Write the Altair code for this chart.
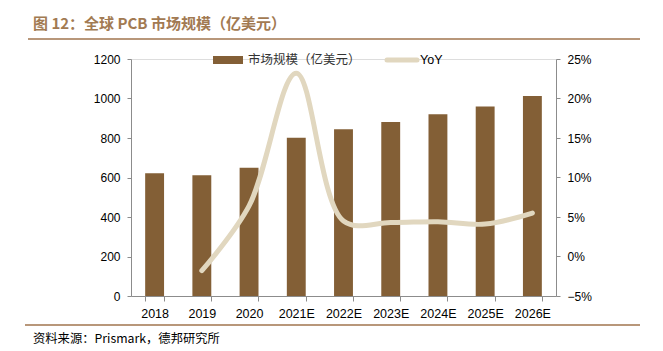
import altair as alt
import pandas as pd

categories = ["2018", "2019", "2020", "2021E", "2022E", "2023E", "2024E", "2025E", "2026E"]
market = [621, 611, 650, 801, 844, 881, 920, 960, 1013]
yoy = [None, -0.018, 0.064, 0.232, 0.045, 0.043, 0.044, 0.041, 0.055]

df = pd.DataFrame({"cat": categories, "market": market, "yoy": yoy})
df_line = df.dropna(subset=["yoy"])

BAR = "#835F36"
LINE = "#E1D7BF"
TITLE = "#A27A52"
AXC = "#8C8C8C"
FONT = "Liberation Sans"
CJK = "Noto Sans CJK SC"

xenc = alt.X("cat:N", sort=categories, title=None,
             scale=alt.Scale(paddingInner=0.6, paddingOuter=0.3),
             axis=alt.Axis(labelAngle=0, tickBand="extent", domainColor=AXC, tickColor=AXC,
                           tickSize=5, labelPadding=6, labelFont=FONT, labelFontSize=12.5,
                           labelColor="#000", grid=False))

bars = alt.Chart(df).mark_bar(color=BAR).encode(
    x=xenc,
    y=alt.Y("market:Q", title=None,
            scale=alt.Scale(domain=[0, 1200], nice=False),
            axis=alt.Axis(values=[0, 200, 400, 600, 800, 1000, 1200], format="d", grid=False,
                          domainColor=AXC, tickColor=AXC, tickSize=4, labelPadding=7,
                          labelFont=FONT, labelFontSize=12, labelColor="#000")),
)

line = alt.Chart(df_line).mark_line(color=LINE, strokeWidth=5, interpolate="catmull-rom",
                                     strokeCap="round").encode(
    x=alt.X("cat:N", sort=categories),
    y=alt.Y("yoy:Q", title=None,
            scale=alt.Scale(domain=[-0.05, 0.25], nice=False),
            axis=alt.Axis(orient="right", format=".0%",
                          values=[-0.05, 0, 0.05, 0.10, 0.15, 0.20, 0.25], grid=False,
                          domainColor=AXC, tickColor=AXC, tickSize=4, labelPadding=7,
                          labelFont=FONT, labelFontSize=12, labelColor="#000")),
)

one = alt.Data(values=[{}])

title = alt.Chart(one).mark_text(text="图 12：全球 PCB 市场规模（亿美元）", align="left",
                                  baseline="middle", font=CJK, fontSize=15, fontWeight="bold",
                                  color=TITLE).encode(x=alt.value(-98), y=alt.value(-35))
topline = alt.Chart(one).mark_rule(color="#B8977A", strokeWidth=2).encode(
    x=alt.value(-103), x2=alt.value(509), y=alt.value(-20))
botline = alt.Chart(one).mark_rule(color="#B8977A", strokeWidth=2).encode(
    x=alt.value(-106), x2=alt.value(509), y=alt.value(266))
footer = alt.Chart(one).mark_text(text="资料来源：Prismark，德邦研究所", align="left",
                                   baseline="middle", font=CJK, fontSize=12.3,
                                   color="#000").encode(x=alt.value(-98), y=alt.value(280))

leg_rect = alt.Chart(one).mark_rect(color=BAR).encode(
    x=alt.value(82), x2=alt.value(112), y=alt.value(-3), y2=alt.value(5))
leg_text1 = alt.Chart(one).mark_text(text="市场规模（亿美元）", align="left", baseline="middle",
                                     font=CJK, fontSize=12.5, color="#333").encode(
    x=alt.value(117), y=alt.value(1))
leg_line = alt.Chart(one).mark_rule(color=LINE, strokeWidth=5, strokeCap="round").encode(
    x=alt.value(256), x2=alt.value(286), y=alt.value(1))
leg_text2 = alt.Chart(one).mark_text(text="YoY", align="left", baseline="middle",
                                     font=FONT, fontSize=12.5, color="#000").encode(
    x=alt.value(289), y=alt.value(1))

chart = alt.layer(bars, line, title, topline, botline, footer,
                  leg_rect, leg_text1, leg_line, leg_text2).resolve_scale(
    y="independent").properties(
    width=425, height=237,
    autosize=alt.AutoSizeParams(type="none"),
    padding={"left": 131, "top": 59, "right": 107, "bottom": 55},
).configure_view(stroke=None).configure(background="white")

chart.save("out.html", embed_options={"renderer": "svg", "actions": False})
